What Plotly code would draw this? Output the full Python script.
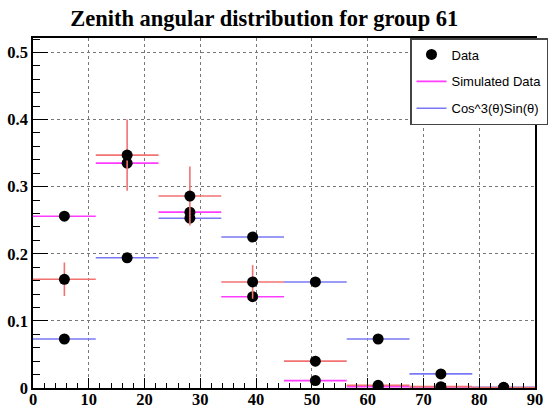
import plotly.graph_objects as go

# ---- data ----
bin_centers = [5.625, 16.875, 28.125, 39.375, 50.625, 61.875, 73.125, 84.375]
bin_half_width = 5.625
data_values = [0.162, 0.347, 0.286, 0.158, 0.040, 0.004, 0.002, 0.0005]
data_errors = [0.025, 0.053, 0.044, 0.025, 0.008, 0.003, 0.002, 0.0005]
sim_values = [0.256, 0.335, 0.262, 0.136, 0.011, 0.002, 0.0, 0.0]
cos_values = [0.073, 0.194, 0.253, 0.225, 0.158, 0.073, 0.021, 0.001]
x_ticks = [0, 10, 20, 30, 40, 50, 60, 70, 80, 90]
y_ticks = [0, 0.1, 0.2, 0.3, 0.4, 0.5]
y_tick_labels = ["0", "0.1", "0.2", "0.3", "0.4", "0.5"]

title_text = "Zenith angular distribution for group 61"

RED = "#f27272"
MAG = "#ff3cff"
BLUE = "#7878f5"

fig = go.Figure()

marker = dict(color="black", size=11, symbol="circle")

fig.add_trace(go.Scatter(
    x=bin_centers, y=cos_values, mode="markers", marker=marker,
    error_x=dict(type="constant", value=bin_half_width, color=BLUE, thickness=1.6, width=0),
    showlegend=False, hoverinfo="x+y"))
fig.add_trace(go.Scatter(
    x=bin_centers, y=sim_values, mode="markers", marker=marker,
    error_x=dict(type="constant", value=bin_half_width, color=MAG, thickness=1.6, width=0),
    showlegend=False))
fig.add_trace(go.Scatter(
    x=bin_centers, y=data_values, mode="markers", marker=marker, name="Data",
    error_x=dict(type="constant", value=bin_half_width, color=RED, thickness=1.6, width=0),
    error_y=dict(type="data", array=data_errors, color=RED, thickness=1.6, width=0),
    legendgroup="a", legendrank=1))

# legend-only line entries
fig.add_trace(go.Scatter(x=[None], y=[None], mode="lines", name="Simulated Data",
                         line=dict(color=MAG, width=1.6), legendgroup="b", legendrank=2))
fig.add_trace(go.Scatter(x=[None], y=[None], mode="lines", name="Cos^3(θ)Sin(θ)",
                         line=dict(color=BLUE, width=1.6), legendgroup="c", legendrank=3))

tickfont = dict(family="Liberation Serif", size=16.5, color="black", weight="bold")

fig.update_layout(
    width=560, height=408,
    margin=dict(l=33, r=13, t=38, b=20),
    paper_bgcolor="white", plot_bgcolor="white",
    title=dict(text=title_text, x=258 / 560, xanchor="center", xref="paper",
               y=1 - 18 / 408, yref="container", yanchor="middle",
               font=dict(family="Liberation Serif", size=22.5, color="black", weight="bold")),
    legend=dict(x=0.751, y=1.0, xanchor="left", yanchor="top",
                bgcolor="white", bordercolor="#444", borderwidth=1.5,
                font=dict(family="Liberation Sans", size=13, color="black"),
                tracegroupgap=7, traceorder="grouped"),
    showlegend=True,
)

fig.update_xaxes(
    range=[0, 90], tickvals=x_ticks, ticks="inside", ticklen=10, tickwidth=1.2, tickcolor="black",
    minor=dict(ticks="inside", dtick=2, ticklen=5, tickcolor="black", tickwidth=1, showgrid=False),
    showline=True, linecolor="black", linewidth=1.6, mirror=True,
    showgrid=True, gridcolor="#777", griddash="dot", gridwidth=1,
    tickfont=tickfont, automargin=False, zeroline=False, ticklabelstandoff=-5,
)
fig.update_yaxes(
    range=[0, 0.5215], tickvals=y_ticks, ticktext=y_tick_labels,
    ticks="inside", ticklen=15, tickwidth=1.2, tickcolor="black",
    minor=dict(ticks="inside", dtick=0.02, ticklen=7.5, tickcolor="black", tickwidth=1, showgrid=False),
    showline=True, linecolor="black", linewidth=1.6, mirror=True,
    showgrid=True, gridcolor="#777", griddash="dot", gridwidth=1,
    tickfont=tickfont, automargin=False, zeroline=False,
)

fig.write_html("out.html")
